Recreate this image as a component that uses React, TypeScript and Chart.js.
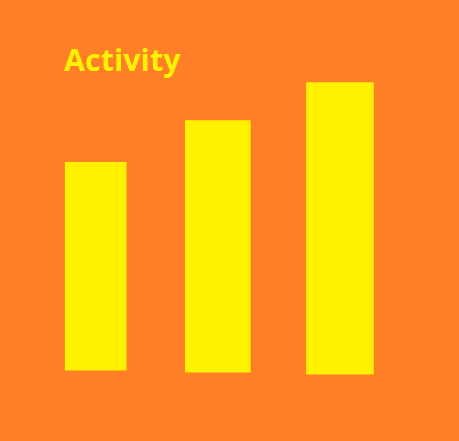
import React, { useEffect, useRef } from "react";
import { Chart, registerables } from "chart.js";

Chart.register(...registerables);

const title = "Activity";
const positions = [0, 1, 2];
const lows = [0.5, 0, -0.5];
const highs = [52.5, 63, 72.5];
const thickness = [61, 65, 67];

const ORANGE = "#FF7F27";
const YELLOW = "#FFF200";

const bgPlugin = {
  id: "bg",
  beforeDraw(chart: any) {
    const { ctx, width, height } = chart;
    ctx.save();
    ctx.fillStyle = ORANGE;
    ctx.fillRect(0, 0, width, height);
    ctx.restore();
  },
};

export default function App() {
  const ref = useRef<HTMLCanvasElement>(null);
  useEffect(() => {
    document.body.style.margin = "0";
    document.body.style.background = ORANGE;
    const datasets = positions.map((x, i) => ({
      label: "s" + i,
      data: [{ x, y: [lows[i], highs[i]] }],
      backgroundColor: YELLOW,
      borderWidth: 0,
      barThickness: thickness[i],
      grouped: false,
    }));
    const chart = new Chart(ref.current!, {
      type: "bar",
      data: { datasets: datasets as any },
      options: {
        animation: false,
        responsive: true,
        maintainAspectRatio: false,
        layout: { padding: { left: 64, right: 58, top: 0, bottom: 41 } },
        plugins: {
          legend: { display: false },
          tooltip: { enabled: false },
          title: {
            display: true,
            text: title,
            align: "start",
            color: YELLOW,
            font: { family: "'Open Sans'", weight: "bold", size: 30.5 },
            padding: { top: 44, bottom: 0 },
          },
        },
        scales: {
          x: { type: "linear", display: false, offset: false, min: -0.26, max: 2.5 },
          y: { type: "linear", display: false, min: -7, max: 73 },
        },
      },
      plugins: [bgPlugin],
    });
    return () => chart.destroy();
  }, []);
  return (
    <div style={{ width: 459, height: 441, position: "relative" }}>
      <canvas ref={ref} />
    </div>
  );
}
